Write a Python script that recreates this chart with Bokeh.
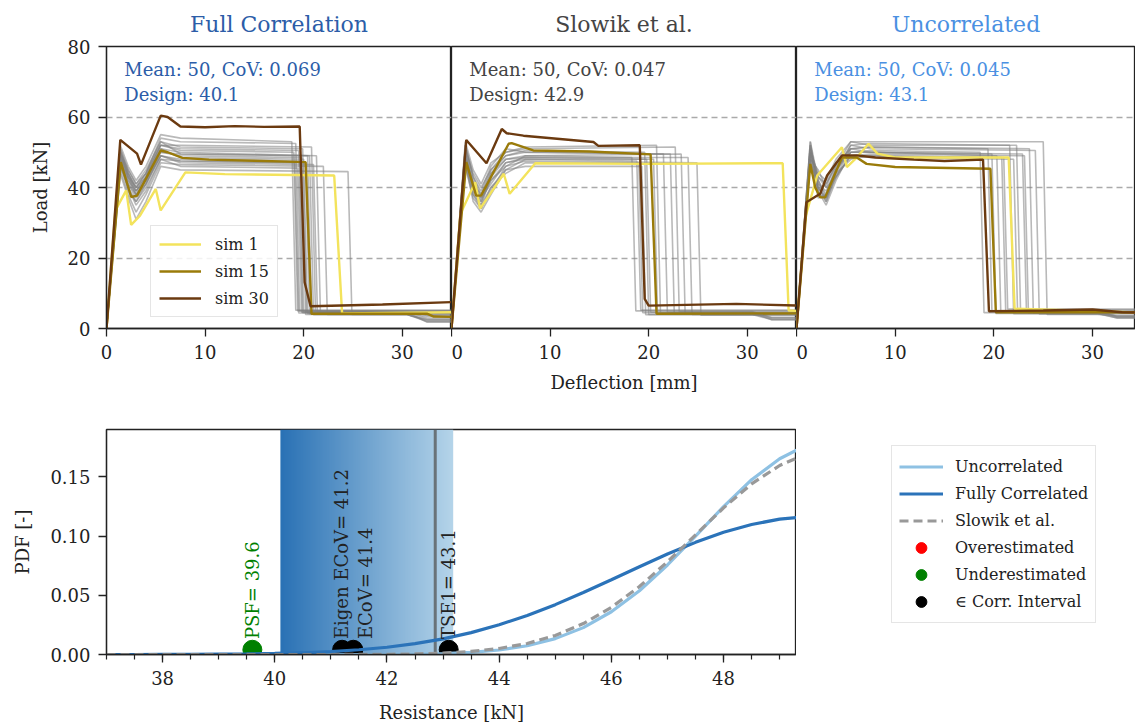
import numpy as np
from bokeh.plotting import figure
from bokeh.models import Legend, LegendItem, FixedTicker, NumeralTickFormatter
from bokeh.layouts import column, row
from bokeh.core.properties import value
from bokeh.embed import file_html
from bokeh.resources import INLINE

FONT = "DejaVu Serif"
NAN = float("nan")

# ---------------- top panels: data ----------------
panel_titles = ["Full Correlation", "Slowik et al.", "Uncorrelated"]
panel_mean = [50, 50, 50]
panel_cov = ["0.069", "0.047", "0.045"]
panel_design = ["40.1", "42.9", "43.1"]
panel_colors = ["#2c5da8", "#444444", "#4a90e2"]

defl_ticks = [0, 10, 20, 30]
load_ticks = [0, 20, 40, 60, 80]

# gray simulations: load at deflection knots, plateau end, failure deflection, residual, residual end
knot_x = [0, 1.4, 2.2, 3.0, 4.0, 5.5, 7.5]
gray_full = [
    ([0, 49, 44, 40, 43, 52, 51], 50.5, 19.5, 4.5, 4.5),
    ([0, 47, 42, 38, 42, 50, 49], 48.5, 19.8, 4.0, 2.0),
    ([0, 51, 45, 41, 44, 54, 53], 52.5, 19.2, 5.0, 5.0),
    ([0, 46, 40, 36, 40, 48, 47.5], 47.0, 20.2, 4.2, 4.2),
    ([0, 50, 43, 39, 42, 51, 50], 49.0, 21.3, 4.5, 3.0),
    ([0, 45, 38, 33, 38, 47, 46.5], 46.0, 22.0, 4.0, 2.2),
    ([0, 48, 41, 37, 41, 49, 48], 47.5, 19.6, 4.8, 4.8),
    ([0, 52, 46, 42, 46, 55, 54], 53.0, 18.8, 5.2, 5.2),
    ([0, 44, 37, 31, 36, 46, 45], 44.5, 24.5, 4.0, 2.5),
    ([0, 49, 42, 39, 43, 51, 48.5], 48.0, 20.0, 4.3, 4.3),
    ([0, 47, 40, 35, 39, 48, 46], 45.5, 19.4, 4.6, 1.8),
    ([0, 50, 44, 40, 44, 53, 49.5], 49.0, 20.4, 4.1, 4.1),
    ([0, 46, 41, 38, 41, 49, 47], 46.5, 21.0, 4.4, 3.5),
    ([0, 48, 43, 40, 44, 52, 50.5], 50.0, 19.0, 5.0, 5.0),
    ([0, 50, 45, 41, 45, 53, 51.5], 51.0, 19.9, 4.7, 4.7),
    ([0, 47, 39, 36, 41, 50, 49.5], 49.0, 20.6, 3.9, 2.6),
    ([0, 49, 43, 38, 42, 49, 47.5], 47.0, 19.1, 4.4, 4.4),
    ([0, 51, 44, 39, 43, 52, 52], 51.5, 20.8, 4.9, 3.8),
]
gray_slowik = [
    ([0, 50, 40, 36, 42, 46, 49], 48.5, 18.3, 5.0, 5.0),
    ([0, 48, 38, 34, 40, 44, 47], 47.0, 19.0, 4.5, 2.5),
    ([0, 52, 43, 38, 45, 49, 50.5], 50.0, 19.6, 4.0, 4.0),
    ([0, 47, 36, 33, 38, 45, 48], 48.0, 20.5, 4.2, 4.2),
    ([0, 53, 45, 41, 47, 50, 51], 51.5, 22.7, 4.8, 3.0),
    ([0, 49, 39, 35, 43, 48, 49], 49.5, 23.3, 4.3, 4.3),
    ([0, 51, 42, 37, 41, 47, 48.5], 48.5, 24.0, 4.0, 2.5),
    ([0, 46, 37, 34, 39, 46, 47.5], 47.0, 24.9, 3.8, 3.8),
    ([0, 50, 41, 36, 44, 49, 50], 49.5, 21.5, 4.6, 4.6),
    ([0, 48, 40, 37, 42, 47, 48], 47.5, 18.8, 5.2, 5.2),
    ([0, 51, 44, 40, 45, 50, 51.5], 52.0, 20.8, 4.4, 3.2),
    ([0, 47, 38, 35, 40, 45, 46], 46.0, 19.3, 3.9, 3.9),
    ([0, 49, 41, 38, 44, 48, 48.5], 48.0, 19.8, 4.6, 4.6),
    ([0, 52, 43, 39, 46, 51, 50], 49.5, 22.2, 4.1, 2.8),
]
gray_uncorr = [
    ([0, 50, 42, 38, 45, 50, 50.5], 50.0, 18.6, 4.5, 4.5),
    ([0, 52, 40, 36, 43, 51, 51.5], 51.0, 19.4, 5.0, 3.5),
    ([0, 48, 45, 40, 47, 49, 49], 48.5, 20.8, 4.6, 4.6),
    ([0, 53, 38, 37, 44, 52, 52.5], 52.0, 21.6, 4.2, 3.0),
    ([0, 49, 43, 41, 46, 53, 52], 52.0, 22.3, 5.2, 5.2),
    ([0, 51, 39, 35, 42, 50, 50], 49.5, 22.9, 4.8, 3.2),
    ([0, 47, 41, 39, 45, 51, 51.5], 51.0, 23.6, 4.4, 4.4),
    ([0, 50, 44, 42, 48, 53, 53], 53.0, 25.0, 4.0, 3.6),
    ([0, 52, 41, 36, 44, 48, 49], 48.5, 21.0, 5.5, 5.5),
    ([0, 49, 37, 38, 46, 50, 50], 49.5, 19.8, 4.3, 3.0),
    ([0, 51, 43, 40, 43, 49, 48.5], 48.0, 22.0, 4.9, 4.9),
    ([0, 48, 40, 37, 45, 52, 51], 50.5, 24.2, 4.1, 4.1),
    ([0, 50, 39, 41, 47, 51, 50], 49.0, 20.3, 4.7, 3.4),
    ([0, 53, 42, 37, 43, 49, 49.5], 49.0, 23.1, 4.5, 4.5),
]

# highlighted simulations
sim1_full_x = [0, 0.9, 2.0, 2.5, 3.4, 5.0, 5.5, 8.0, 12, 23.1, 23.9, 35]
sim1_full_y = [0, 33.5, 39.2, 29.4, 32, 39.6, 33.5, 44.3, 43.8, 43.4, 4.3, 4.6]
sim15_full_x = [0, 1.45, 2.5, 3.1, 5.5, 6.2, 7.7, 10.4, 15, 20.2, 20.8, 32.5, 33.2, 35]
sim15_full_y = [0, 47.2, 37.3, 37.7, 50.5, 50.0, 48.4, 47.9, 47.6, 47.2, 4.2, 4.2, 3.4, 3.3]
sim30_full_x = [0, 1.4, 3.1, 3.5, 5.5, 6.2, 7.5, 10, 13, 16, 19.6, 20.1, 20.7, 28, 35]
sim30_full_y = [0, 53.5, 49.6, 46.5, 60.4, 60.0, 57.3, 57.1, 57.4, 57.2, 57.3, 13.1, 6.3, 6.8, 7.5]

sim1_slowik_x = [0, 0.9, 2.4, 2.9, 5.3, 5.9, 8.5, 20, 33.6, 34.2, 35]
sim1_slowik_y = [0, 32.5, 41.5, 34, 43.9, 38.2, 46.9, 46.7, 46.9, 5.1, 5.0]
sim15_slowik_x = [0, 1.5, 2.5, 3.0, 5.8, 6.1, 8.3, 14, 20.2, 20.8, 35]
sim15_slowik_y = [0, 47.2, 37.7, 37.7, 52.4, 52.6, 50.5, 50.2, 49.4, 4.2, 4.3]
sim30_slowik_x = [0, 1.5, 3.55, 5.1, 5.6, 7.3, 14.4, 14.9, 19.1, 19.6, 20.0, 28.9, 35]
sim30_slowik_y = [0, 53.5, 46.9, 56.6, 55.4, 54.7, 52.9, 51.8, 52.0, 8.4, 6.5, 7.0, 6.5]

sim1_uncorr_x = [0, 0.9, 2.1, 4.6, 5.1, 6.1, 7.3, 8.2, 10, 21.5, 22.1, 30, 35]
sim1_uncorr_y = [0, 31.6, 43.4, 51.4, 45.8, 48.5, 52.4, 49.6, 48.5, 48.5, 5.6, 5.0, 4.5]
sim15_uncorr_x = [0, 1.4, 1.9, 2.4, 2.9, 4.6, 6.1, 7.1, 10, 19.65, 20.2, 35]
sim15_uncorr_y = [0, 46.7, 40, 37.2, 37.2, 48.5, 48.5, 46.7, 45.8, 45.3, 4.6, 4.6]
sim30_uncorr_x = [0, 1.0, 2.4, 3.1, 4.6, 6.1, 8, 11.9, 15, 18.9, 19.5, 25, 30, 33, 35]
sim30_uncorr_y = [0, 35.8, 38.2, 43.4, 49.1, 49.1, 48.5, 47.9, 47.5, 47.9, 4.9, 5.1, 5.4, 4.6, 4.5]

sim_labels = ["sim 1", "sim 15", "sim 30"]
sim_colors = ["#f3e35c", "#9a7b0a", "#6b3a10"]

# ---------------- bottom panel: data ----------------
resistance = [37, 37.5, 38, 38.5, 39, 39.5, 40, 40.5, 41, 41.5, 42, 42.5, 43, 43.5,
              44, 44.5, 45, 45.5, 46, 46.5, 47, 47.5, 48, 48.5, 49, 49.3]
pdf_uncorr = [0.0, 0.0, 0.0, 0.0, 0.0, 0.0, 0.0, 0.0, 0.0, 0.0, 0.0001, 0.0003, 0.0008, 0.0018,
              0.0038, 0.0074, 0.0134, 0.0227, 0.0361, 0.0538, 0.0756, 0.1000, 0.1249, 0.1476, 0.1653, 0.1725]
pdf_full = [0.0, 0.0, 0.0001, 0.0001, 0.0003, 0.0005, 0.0009, 0.0015, 0.0025, 0.0040, 0.0061, 0.0092, 0.0132, 0.0185,
            0.0251, 0.0330, 0.0421, 0.0523, 0.0631, 0.0741, 0.0849, 0.0947, 0.1032, 0.1098, 0.1143, 0.1157]
pdf_slowik = [0.0, 0.0, 0.0, 0.0, 0.0, 0.0, 0.0, 0.0, 0.0, 0.0001, 0.0002, 0.0005, 0.0012, 0.0026,
              0.0051, 0.0093, 0.0161, 0.0261, 0.0398, 0.0574, 0.0783, 0.1010, 0.1238, 0.1441, 0.1596, 0.1658]

corr_interval = [40.1, 43.18]
slowik_design = 42.86

method_names = ["PSF", "Eigen ECoV", "ECoV", "TSE1"]
method_values = [39.6, 41.2, 41.4, 43.1]
method_status = ["under", "corr", "corr", "corr"]
status_colors = {"over": "#ff0000", "under": "#008000", "corr": "#000000"}

res_ticks = [38, 40, 42, 44, 46, 48]
pdf_ticks = [0.0, 0.05, 0.10, 0.15]


def style_axes(p):
    for ax in p.axis:
        ax.major_label_text_font = FONT
        ax.major_label_text_font_size = "18px"
        ax.major_label_text_color = "#222222"
        ax.axis_label_text_font = FONT
        ax.axis_label_text_font_size = "18px"
        ax.axis_label_text_font_style = "normal"
        ax.axis_label_text_color = "#222222"
        ax.axis_line_color = "#222222"
        ax.axis_line_width = 1.3
        ax.major_tick_line_color = "#222222"
        ax.major_tick_line_width = 1.3
        ax.major_tick_in = 0
        ax.major_tick_out = 8
        ax.minor_tick_in = 0
        ax.minor_tick_out = 0
        ax.major_label_standoff = 8
        ax.axis_label_standoff = 12
    p.outline_line_color = "#222222"
    p.outline_line_width = 1.3
    p.outline_line_alpha = 1.0


def style_legend(leg, glyph_w, glyph_h, spacing, padding):
    leg.label_text_font = FONT
    leg.label_text_font_size = "16px"
    leg.label_text_color = "#222222"
    leg.glyph_width = glyph_w
    leg.glyph_height = glyph_h
    leg.label_height = glyph_h
    leg.spacing = spacing
    leg.padding = padding
    leg.margin = 0
    leg.border_line_color = "#cccccc"
    leg.border_line_width = 1.5
    leg.background_fill_alpha = 0.85


def make_panel(i, gray, hl, first, xlabel, width, xend):
    p = figure(width=width, height=400, x_range=(0, xend), y_range=(0, 80),
               output_backend="svg", toolbar_location=None,
               min_border_left=106 if first else 0, min_border_right=0,
               min_border_top=46, min_border_bottom=72)
    p.border_fill_color = "white"
    p.title.text = panel_titles[i]
    p.title.align = "center"
    p.title.text_font = FONT
    p.title.text_font_size = "22px"
    p.title.text_font_style = "normal"
    p.title.text_color = panel_colors[i]
    p.title.standoff = 19
    style_axes(p)
    p.xaxis.ticker = FixedTicker(ticks=defl_ticks)
    p.yaxis.ticker = FixedTicker(ticks=load_ticks)
    p.xgrid.visible = False
    p.ygrid.grid_line_color = "#aaaaaa"
    p.ygrid.grid_line_dash = "6 4"
    p.ygrid.grid_line_width = 1.4
    if first:
        p.yaxis.axis_label = "Load [kN]"
        p.yaxis.axis_label_standoff = 14
    else:
        p.yaxis.visible = False
    if xlabel:
        p.xaxis.axis_label = xlabel
        p.xaxis.axis_label_standoff = 10

    xs, ys = [], []
    for (yk, pe, f, r, re) in gray:
        xs.append(knot_x + [f, f + 0.4, 30.5, 32.5, 35])
        ys.append(yk + [pe, r, r, re, re])
    p.multi_line(xs, ys, line_color="#808080", line_alpha=0.55, line_width=1.6)

    rends = []
    for (hx, hy), col in zip(hl, sim_colors):
        rends.append(p.line(hx, hy, line_color=col, line_width=2.4))

    p.text(x=[1.8], y=[76.5],
           text=[f"Mean: {panel_mean[i]}, CoV: {panel_cov[i]}\nDesign: {panel_design[i]}"],
           text_font=value(FONT), text_font_size="18px", text_color=panel_colors[i],
           text_align="left", text_baseline="top", text_line_height=1.2)

    if first:
        leg = Legend(items=[LegendItem(label=l, renderers=[r]) for l, r in zip(sim_labels, rends)],
                     location=(44, 11))
        style_legend(leg, 42, 20, 7, 8)
        leg.label_standoff = 14
        p.add_layout(leg)
    return p


p1 = make_panel(0, gray_full,
                [(sim1_full_x, sim1_full_y), (sim15_full_x, sim15_full_y), (sim30_full_x, sim30_full_y)],
                True, None, 451, 35)
p2 = make_panel(1, gray_slowik,
                [(sim1_slowik_x, sim1_slowik_y), (sim15_slowik_x, sim15_slowik_y), (sim30_slowik_x, sim30_slowik_y)],
                False, "Deflection [mm]", 345, 35)
p3 = make_panel(2, gray_uncorr,
                [(sim1_uncorr_x, sim1_uncorr_y), (sim15_uncorr_x, sim15_uncorr_y), (sim30_uncorr_x, sim30_uncorr_y)],
                False, None, 339, 34.35)

# ---------------- bottom panel ----------------
pb = figure(width=796, height=326, x_range=(37, 49.3), y_range=(0, 0.19),
            output_backend="svg", toolbar_location=None,
            min_border_left=106, min_border_right=0, min_border_top=29, min_border_bottom=72)
pb.border_fill_color = "white"
style_axes(pb)
pb.xgrid.visible = False
pb.ygrid.visible = False
pb.xaxis.ticker = FixedTicker(ticks=res_ticks, minor_ticks=list(np.arange(37.0, 49.31, 0.5)))
pb.xaxis.minor_tick_out = 5
pb.xaxis.minor_tick_line_color = "#222222"
pb.xaxis.minor_tick_line_width = 1.2
pb.yaxis.ticker = FixedTicker(ticks=pdf_ticks)
pb.yaxis.formatter = NumeralTickFormatter(format="0.00")
pb.xaxis.axis_label = "Resistance [kN]"
pb.xaxis.axis_label_standoff = 14
pb.yaxis.axis_label = "PDF [-]"
pb.yaxis.axis_label_standoff = 14

# gradient band over the correlation interval (dark -> light)
n_px = 200
c0 = np.array([0x2a, 0x72, 0xb5])
c1 = np.array([0xb6, 0xd5, 0xea])
grad = np.zeros((1, n_px), dtype=np.uint32)
gview = grad.view(dtype=np.uint8).reshape((1, n_px, 4))
for k in range(n_px):
    t = k / (n_px - 1)
    c = (c0 + (c1 - c0) * t).astype(np.uint8)
    gview[0, k, 0] = c[0]
    gview[0, k, 1] = c[1]
    gview[0, k, 2] = c[2]
    gview[0, k, 3] = 255
pb.image_rgba(image=[grad], x=corr_interval[0], y=0,
              dw=corr_interval[1] - corr_interval[0], dh=0.19)

pb.segment(x0=[slowik_design], y0=[0], x1=[slowik_design], y1=[0.19],
           line_color="#555555", line_alpha=0.75, line_width=3)

# markers
pt_colors = [status_colors[s] for s in method_status]
pb.scatter(method_values, [0.004] * len(method_values), size=19, marker="circle",
           fill_color=pt_colors, line_color=pt_colors)

r_un = pb.line(resistance, pdf_uncorr, line_color="#8ec1e3", line_width=3.2)
r_fu = pb.line(resistance, pdf_full, line_color="#2b73b9", line_width=3.2)
r_sl = pb.line(resistance, pdf_slowik, line_color="#999999", line_width=3.2, line_dash="9 5")

# rotated labels
lab_x = [method_values[0], method_values[2], method_values[3]]
lab_text = [f"{method_names[0]}= {method_values[0]}",
            f"{method_names[1]}= {method_values[1]}\n{method_names[2]}= {method_values[2]}",
            f"{method_names[3]}= {method_values[3]}"]
lab_col = [status_colors[method_status[0]], "#222222", "#222222"]
pb.text(x=lab_x, y=[0.013] * 3, text=lab_text, angle=np.pi / 2,
        text_font=value(FONT), text_font_size="18px", text_color=lab_col,
        text_align="left", text_baseline="middle", text_line_height=1.15)

# ---------------- legend panel (right of bottom plot) ----------------
pl = figure(width=339, height=326, x_range=(0, 1), y_range=(0, 1),
            output_backend="svg", toolbar_location=None,
            min_border_left=0, min_border_right=0, min_border_top=0, min_border_bottom=0)
pl.axis.visible = False
pl.grid.visible = False
pl.outline_line_color = None
pl.border_fill_color = "white"
# hidden stand-ins (NaN data) that only supply legend glyphs
l_un = pl.line([NAN], [NAN], line_color="#8ec1e3", line_width=3.2)
l_fu = pl.line([NAN], [NAN], line_color="#2b73b9", line_width=3.2)
l_sl = pl.line([NAN], [NAN], line_color="#999999", line_width=3.2, line_dash="9 5")
l_over = pl.scatter([NAN], [NAN], size=19, marker="circle", fill_color=status_colors["over"], line_color=status_colors["over"])
l_under = pl.scatter([NAN], [NAN], size=19, marker="circle", fill_color=status_colors["under"], line_color=status_colors["under"])
l_corr = pl.scatter([NAN], [NAN], size=19, marker="circle", fill_color=status_colors["corr"], line_color=status_colors["corr"])
leg_b = Legend(items=[
    LegendItem(label="Uncorrelated", renderers=[l_un]),
    LegendItem(label="Fully Correlated", renderers=[l_fu]),
    LegendItem(label="Slowik et al.", renderers=[l_sl]),
    LegendItem(label="Overestimated", renderers=[l_over]),
    LegendItem(label="Underestimated", renderers=[l_under]),
    LegendItem(label="\u2208 Corr. Interval", renderers=[l_corr]),
], location=(95, 31))
style_legend(leg_b, 44, 27, 0, 7)
leg_b.label_standoff = 12
pl.add_layout(leg_b)

layout = column(row(p1, p2, p3), row(pb, pl))
open("out.html", "w").write(file_html(layout, INLINE))
